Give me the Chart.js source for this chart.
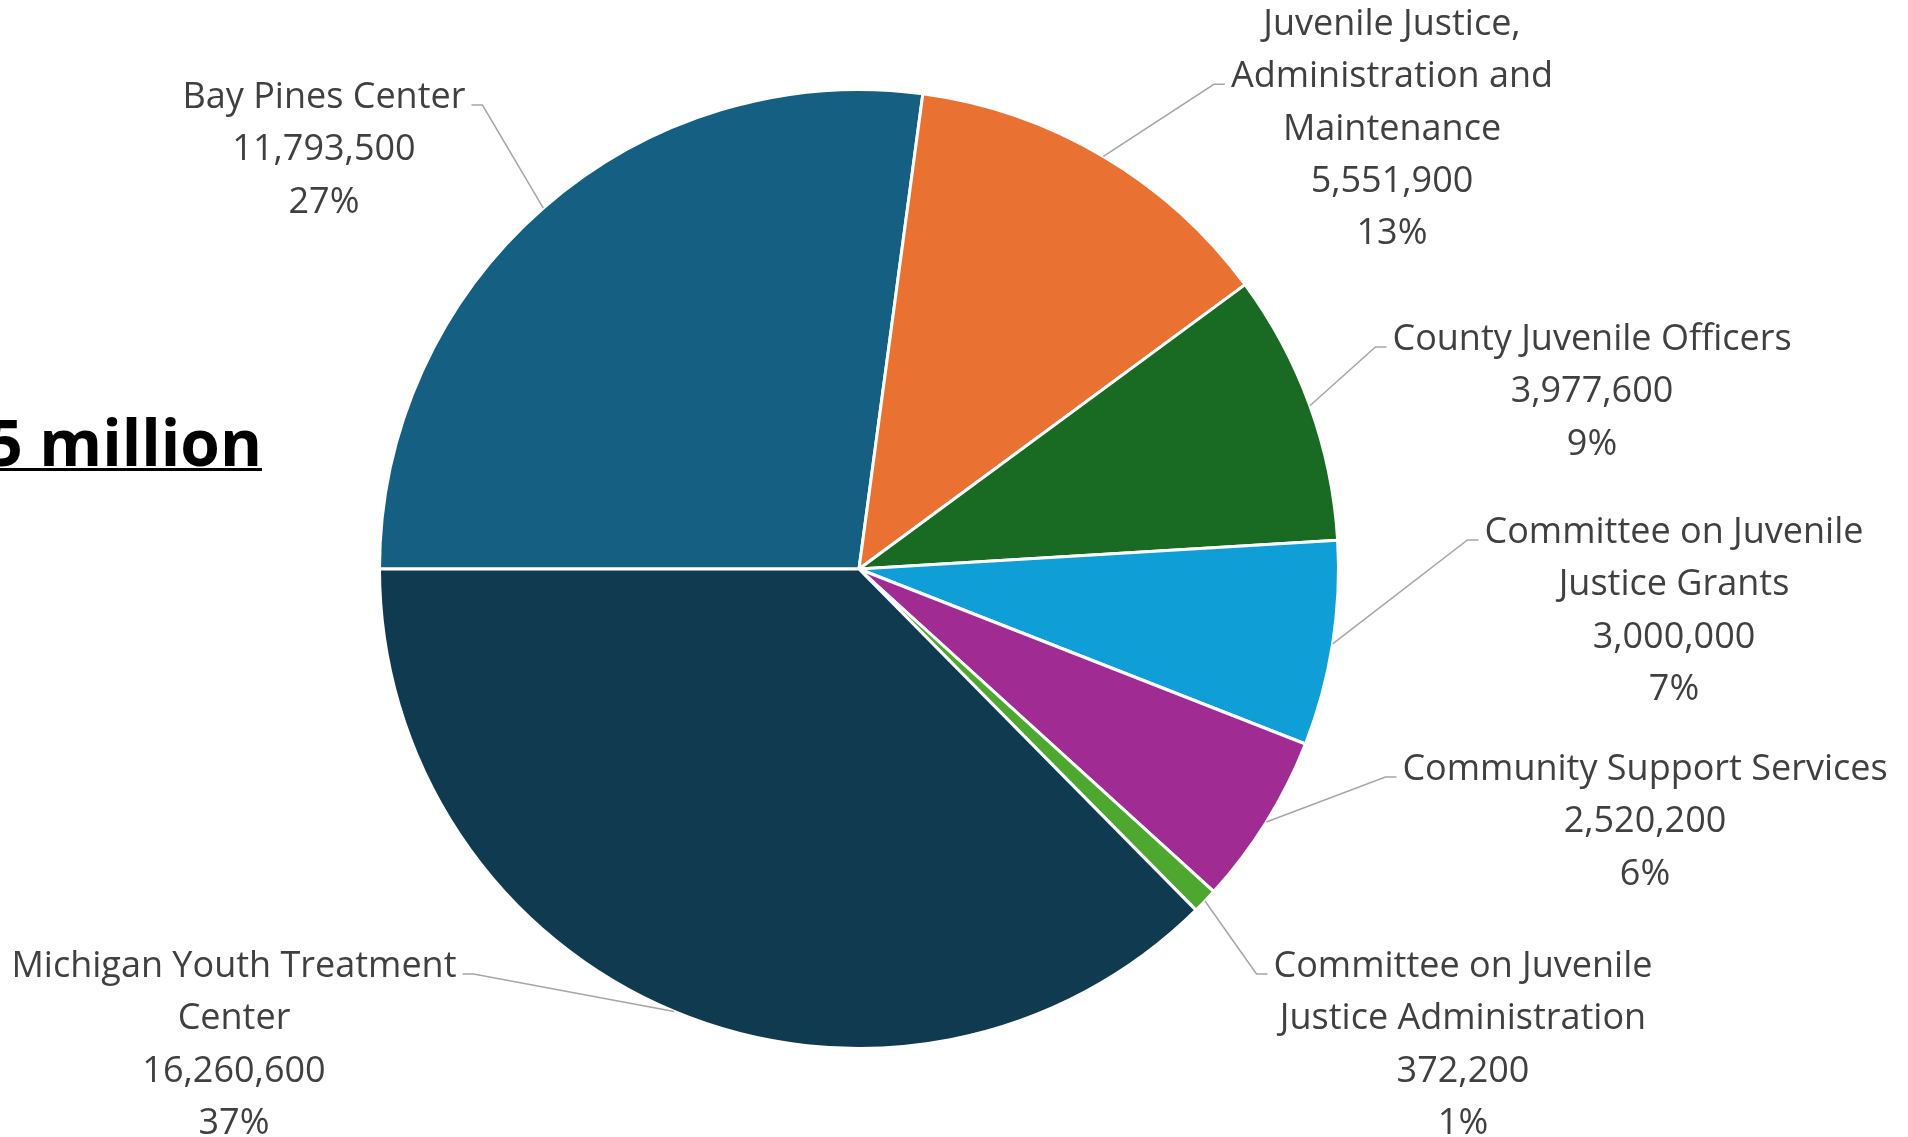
<!DOCTYPE html>
<html lang="en">
<head>
<meta charset="UTF-8">
<meta name="viewport" content="width=device-width, initial-scale=1.0">
<title>Juvenile Justice Services budget</title>
<script src="https://cdn.jsdelivr.net/npm/chart.js"></script>
<style>
  html, body { margin: 0; padding: 0; background: #ffffff; overflow: hidden; }
  #wrap { position: relative; width: 1908px; height: 1137px; }
</style>
</head>
<body>
<div id="wrap"><canvas id="budgetPie"></canvas></div>
<script>
// slices, clockwise from 9 o'clock
const categories = [
    "Bay Pines Center",
    "Juvenile Justice, Administration and Maintenance",
    "County Juvenile Officers",
    "Committee on Juvenile Justice Grants",
    "Community Support Services",
    "Committee on Juvenile Justice Administration",
    "Michigan Youth Treatment Center"
];
// how each name wraps in the data label
const categoryLines = [
    ["Bay Pines Center"],
    ["Juvenile Justice,", "Administration and", "Maintenance"],
    ["County Juvenile Officers"],
    ["Committee on Juvenile", "Justice Grants"],
    ["Community Support Services"],
    ["Committee on Juvenile", "Justice Administration"],
    ["Michigan Youth Treatment", "Center"]
];
const amounts = [11793500, 5551900, 3977600, 3000000, 2520200, 372200, 16260600];
const sliceColors = ["#156082", "#e97132", "#196b24", "#0f9ed5", "#a02b93", "#4ea72e", "#0f3a50"];
const totalTitle = "$43.5 million";

// label boxes: centre x, first baseline, side the leader leaves from, line it meets
const labelLayout = [
    [324, 108, "right", 0],
    [1392, 35, "left", 1],
    [1592, 350, "left", 0],
    [1674, 543, "left", 0],
    [1645, 780, "left", 0],
    [1463, 977, "left", 0],
    [234, 977, "right", 0]
];
const LINE_H = 52.3;

const calloutLabels = {
    id: 'calloutLabels',
    afterDatasetsDraw(chart) {
        const ctx = chart.ctx;
        const arcs = chart.getDatasetMeta(0).data;
        const total = amounts.reduce((a, b) => a + b, 0);
        ctx.save();
        ctx.font = '36px "Open Sans"';
        ctx.textAlign = 'center';
        ctx.textBaseline = 'alphabetic';
        arcs.forEach((arc, i) => {
            const lines = categoryLines[i].concat([
                amounts[i].toLocaleString('en-US'),
                Math.round(amounts[i] / total * 100) + '%'
            ]);
            const [cx, y0, edge, hookLine] = labelLayout[i];
            const widest = Math.max(...lines.map(l => ctx.measureText(l).width));

            // leader line from the middle of the slice rim
            const mid = (arc.startAngle + arc.endAngle) / 2;
            const px = arc.x + Math.cos(mid) * arc.outerRadius;
            const py = arc.y + Math.sin(mid) * arc.outerRadius;
            const dir = edge === 'right' ? 1 : -1;
            const hy = y0 + hookLine * LINE_H - 3;
            const tx = cx + dir * (widest / 2 + 6);
            const ex = tx + dir * 11;
            ctx.beginPath();
            ctx.moveTo(px, py);
            ctx.lineTo(ex, hy);
            ctx.lineTo(tx, hy);
            ctx.strokeStyle = '#a6a6a6';
            ctx.lineWidth = 1.5;
            ctx.stroke();

            ctx.fillStyle = '#404040';
            lines.forEach((l, k) => ctx.fillText(l, cx, y0 + k * LINE_H));
        });

        // total, mostly off the left edge as in the slide
        ctx.font = 'bold 64px "Open Sans"';
        ctx.textAlign = 'right';
        ctx.fillStyle = '#000000';
        ctx.fillText(totalTitle, 262, 466);
        ctx.fillRect(0, 468, 262, 3);
        ctx.restore();
    }
};

new Chart(document.getElementById('budgetPie'), {
    type: 'pie',
    data: {
        labels: categories,
        datasets: [{
            data: amounts,
            backgroundColor: sliceColors,
            borderColor: '#ffffff',
            borderWidth: 3
        }]
    },
    options: {
        responsive: true,
        maintainAspectRatio: false,
        animation: false,
        rotation: -90,
        layout: { padding: { left: 378, right: 568, top: 88, bottom: 87 } },
        plugins: {
            legend: { display: false },
            tooltip: { enabled: false }
        }
    },
    plugins: [calloutLabels]
});
</script>
</body>
</html>
